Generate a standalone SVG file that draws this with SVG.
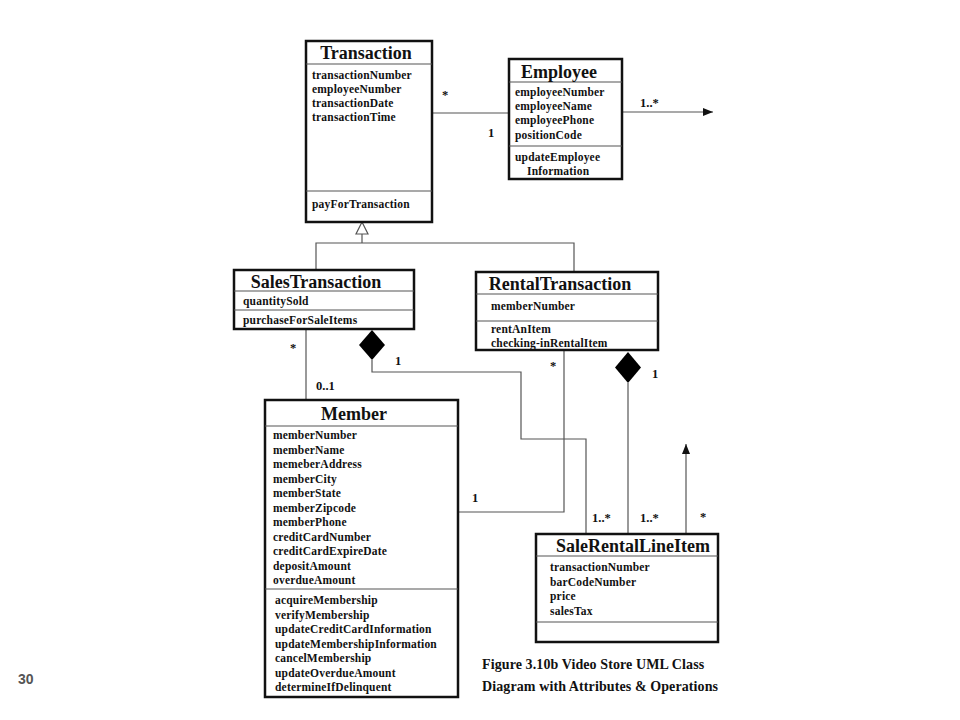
<svg xmlns="http://www.w3.org/2000/svg" width="960" height="720" viewBox="0 0 960 720">
<style>
.box{fill:#fff;stroke:#111;stroke-width:2.5}
.div{stroke:#555;stroke-width:1.2;fill:none}
.t{font-family:"Liberation Serif","Times New Roman",serif;font-weight:bold;font-size:18px;fill:#111}
.a{font-family:"Liberation Serif","Times New Roman",serif;font-weight:bold;font-size:11.5px;letter-spacing:0.2px;fill:#111}
.l{font-family:"Liberation Serif","Times New Roman",serif;font-weight:bold;font-size:12.5px;fill:#111}
.c{fill:none;stroke:#555;stroke-width:1.2}
.cap{font-family:"Liberation Serif","Times New Roman",serif;font-weight:bold;font-size:14px;letter-spacing:0.1px;fill:#111}
</style>
<defs>
<marker id="arr" viewBox="0 0 10 10" refX="10" refY="5" markerWidth="10" markerHeight="10" markerUnits="userSpaceOnUse" orient="auto">
<path d="M0,1 L10,5 L0,9 Z" fill="#111"/>
</marker>
</defs>
<rect width="960" height="720" fill="#fff"/>

<g id="connectors">
<line class="c" x1="432" y1="113" x2="509" y2="113"/>
<line class="c" x1="622" y1="112" x2="713" y2="112" marker-end="url(#arr)"/>
<polyline class="c" points="362,234 362,243"/>
<polyline class="c" points="316,270 316,243 574,243 574,272"/>
<polygon points="362,222 368,234 356,234" fill="#fff" stroke="#555" stroke-width="1.2"/>
<line class="c" x1="306" y1="330" x2="306" y2="400"/>
<polygon points="372,330 385,345 372,360 359,345" fill="#000"/>
<polyline class="c" points="372,360 372,372 521,372 521,439 586,439 586,534"/>
<polyline class="c" points="564,350 564,512 458,512"/>
<polygon points="628,352 641,367.5 628,383 615,367.5" fill="#000"/>
<line class="c" x1="628" y1="383" x2="628" y2="534"/>
<line class="c" x1="686" y1="534" x2="686" y2="444" marker-end="url(#arr)"/>
<text class="l" x="442" y="99">*</text>
<text class="l" x="488" y="137">1</text>
<text class="l" x="640" y="107">1..*</text>
<text class="l" x="290" y="352">*</text>
<text class="l" x="316" y="390">0..1</text>
<text class="l" x="395" y="365">1</text>
<text class="l" x="550" y="370">*</text>
<text class="l" x="652" y="378">1</text>
<text class="l" x="472" y="502">1</text>
<text class="l" x="592" y="522">1..*</text>
<text class="l" x="640" y="522">1..*</text>
<text class="l" x="700" y="521">*</text>
</g>

<g id="Transaction">
<rect class="box" x="306" y="41" width="126" height="181"/>
<line class="div" x1="306" y1="64" x2="432" y2="64"/>
<line class="div" x1="306" y1="191" x2="432" y2="191"/>
<text class="t" x="366" y="59" text-anchor="middle">Transaction</text>
<text class="a" x="312" y="79">transactionNumber</text>
<text class="a" x="312" y="93">employeeNumber</text>
<text class="a" x="312" y="107">transactionDate</text>
<text class="a" x="312" y="121">transactionTime</text>
<text class="a" x="312" y="208">payForTransaction</text>
</g>

<g id="Employee">
<rect class="box" x="509" y="59" width="113" height="120"/>
<line class="div" x1="509" y1="82" x2="622" y2="82"/>
<line class="div" x1="509" y1="146" x2="622" y2="146"/>
<text class="t" x="559" y="78" text-anchor="middle">Employee</text>
<text class="a" x="515" y="96">employeeNumber</text>
<text class="a" x="515" y="110">employeeName</text>
<text class="a" x="515" y="124">employeePhone</text>
<text class="a" x="515" y="139">positionCode</text>
<text class="a" x="515" y="161">updateEmployee</text>
<text class="a" x="527" y="175">Information</text>
</g>

<g id="SalesTransaction">
<rect class="box" x="234" y="270" width="180" height="59"/>
<line class="div" x1="234" y1="291" x2="414" y2="291"/>
<line class="div" x1="234" y1="310" x2="414" y2="310"/>
<text class="t" x="316" y="288" text-anchor="middle">SalesTransaction</text>
<text class="a" x="243" y="305">quantitySold</text>
<text class="a" x="243" y="324">purchaseForSaleItems</text>
</g>

<g id="RentalTransaction">
<rect class="box" x="476" y="272" width="182" height="78"/>
<line class="div" x1="476" y1="294" x2="658" y2="294"/>
<line class="div" x1="476" y1="321" x2="658" y2="321"/>
<text class="t" x="560" y="290" text-anchor="middle">RentalTransaction</text>
<text class="a" x="491" y="310">memberNumber</text>
<text class="a" x="491" y="333">rentAnItem</text>
<text class="a" x="491" y="347">checking-inRentalItem</text>
</g>

<g id="Member">
<rect class="box" x="265" y="400" width="193" height="297"/>
<line class="div" x1="265" y1="426" x2="458" y2="426"/>
<line class="div" x1="265" y1="589" x2="458" y2="589"/>
<text class="t" x="354" y="420" text-anchor="middle">Member</text>
<text class="a" x="273" y="439">memberNumber</text>
<text class="a" x="273" y="453.5">memberName</text>
<text class="a" x="273" y="468">memeberAddress</text>
<text class="a" x="273" y="482.5">memberCity</text>
<text class="a" x="273" y="497">memberState</text>
<text class="a" x="273" y="511.5">memberZipcode</text>
<text class="a" x="273" y="526">memberPhone</text>
<text class="a" x="273" y="540.5">creditCardNumber</text>
<text class="a" x="273" y="555">creditCardExpireDate</text>
<text class="a" x="273" y="569.5">depositAmount</text>
<text class="a" x="273" y="584">overdueAmount</text>
<text class="a" x="275" y="604">acquireMembership</text>
<text class="a" x="275" y="618.5">verifyMembership</text>
<text class="a" x="275" y="633">updateCreditCardInformation</text>
<text class="a" x="275" y="647.5">updateMembershipInformation</text>
<text class="a" x="275" y="662">cancelMembership</text>
<text class="a" x="275" y="676.5">updateOverdueAmount</text>
<text class="a" x="275" y="691">determineIfDelinquent</text>
</g>

<g id="SaleRentalLineItem">
<rect class="box" x="536" y="534" width="182" height="108"/>
<line class="div" x1="536" y1="556" x2="718" y2="556"/>
<line class="div" x1="536" y1="622" x2="718" y2="622"/>
<text class="t" x="633" y="552" text-anchor="middle">SaleRentalLineItem</text>
<text class="a" x="550" y="571">transactionNumber</text>
<text class="a" x="550" y="586">barCodeNumber</text>
<text class="a" x="550" y="600">price</text>
<text class="a" x="550" y="615">salesTax</text>
</g>

<g id="caption">
<text class="cap" x="482" y="669">Figure 3.10b Video Store UML Class</text>
<text class="cap" x="482" y="691">Diagram with Attributes &amp; Operations</text>
</g>
<text x="18" y="684" font-family="Liberation Sans, Arial, sans-serif" font-weight="bold" font-size="14" fill="#555">30</text>
</svg>
